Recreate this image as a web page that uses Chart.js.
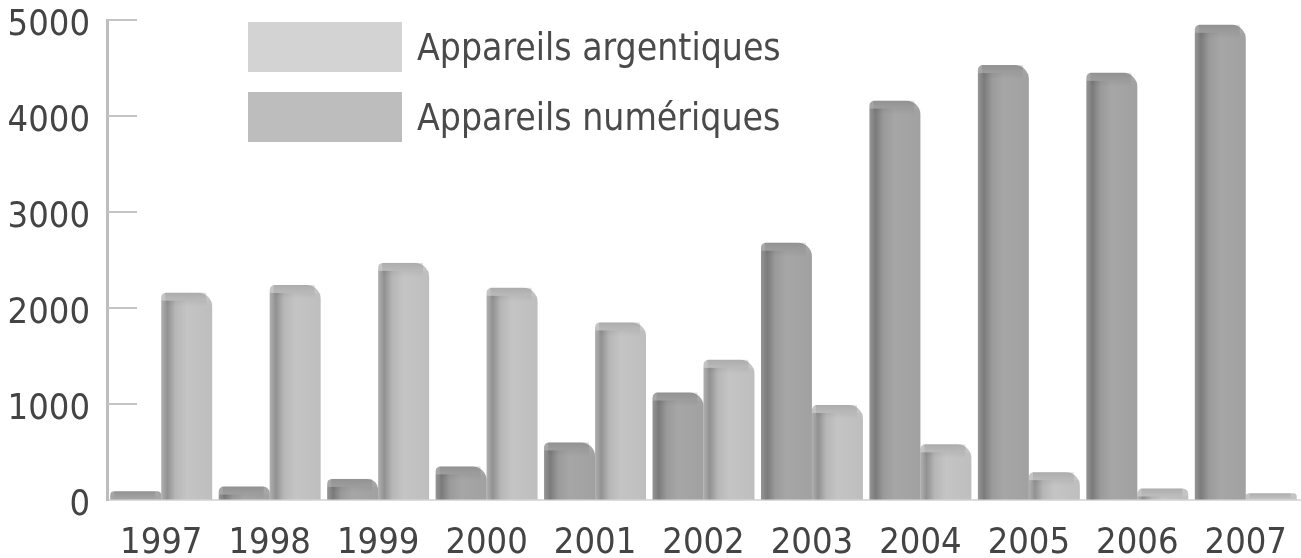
<!DOCTYPE html>
<html><head><meta charset="utf-8">
<script src="https://cdn.jsdelivr.net/npm/chart.js@4.4.1/dist/chart.umd.min.js"></script>
<style>
html,body{margin:0;padding:0;background:#fff;}
#wrap{position:relative;width:1301px;height:558px;}
#legend{position:absolute;left:248px;top:22px;font-family:"DejaVu Sans Condensed","DejaVu Sans",sans-serif;}
.row{display:flex;align-items:center;height:50px;margin-bottom:20px;}
.box{width:154px;height:50px;}
.lbl{margin-left:15px;font-size:37px;color:#4a4a4a;white-space:nowrap;}
</style></head><body>
<div id="wrap"><canvas id="c" width="1301" height="558"></canvas><div id="legend"></div></div>
<script>
const years = ['1997','1998','1999','2000','2001','2002','2003','2004','2005','2006','2007'];
const numeriques = [90, 140, 220, 350, 600, 1120, 2680, 4160, 4530, 4450, 4950];
const argentiques = [2160, 2240, 2470, 2210, 1850, 1460, 990, 580, 290, 120, 70];
const seriesLabels = ['Appareils numériques', 'Appareils argentiques'];
const seriesColors = ['#a6a6a6', '#c4c4c4'];
const yMin = 0, yMax = 5000, yStep = 1000;

const FONT = '"DejaVu Sans Condensed","DejaVu Sans",sans-serif';

const inwardTicks = {
  id: 'inwardTicks',
  afterDraw(chart) {
    const {ctx, chartArea} = chart;
    const y = chart.scales.y;
    ctx.save();
    ctx.strokeStyle = '#c4c4c4';
    ctx.lineWidth = 2;
    y.ticks.forEach(t => {
      const py = y.getPixelForValue(t.value);
      if (t.value === 0) return;
      ctx.beginPath();
      ctx.moveTo(chartArea.left, py);
      ctx.lineTo(chartArea.left + 30, py);
      ctx.stroke();
    });
    ctx.restore();
  }
};

const shade3d = {
  id: 'shade3d',
  afterDatasetsDraw(chart) {
    const ctx = chart.ctx;
    chart.data.datasets.forEach((ds, di) => {
      const meta = chart.getDatasetMeta(di);
      meta.data.forEach(bar => {
        const w = bar.width;
        const left = bar.x - w / 2;
        const top = bar.y;
        const h = bar.base - bar.y;
        if (h <= 0) return;
        ctx.save();
        const g = ctx.createLinearGradient(left, 0, left + w, 0);
        g.addColorStop(0, 'rgba(0,0,0,0.10)');
        g.addColorStop(0.12, 'rgba(0,0,0,0.26)');
        g.addColorStop(0.28, 'rgba(0,0,0,0.07)');
        g.addColorStop(0.5, 'rgba(0,0,0,0)');
        g.addColorStop(1, 'rgba(0,0,0,0.03)');
        ctx.fillStyle = g;
        const off = Math.min(8, h);
        ctx.fillRect(left, top + off, w, h - off);
        const tg = ctx.createLinearGradient(0, top, 0, top + Math.min(14, h));
        tg.addColorStop(0, 'rgba(0,0,0,0.12)');
        tg.addColorStop(1, 'rgba(0,0,0,0)');
        ctx.fillStyle = tg;
        ctx.fillRect(left + 4, top, w - 10, Math.min(14, h));
        ctx.restore();
      });
    });
  }
};

const chart = new Chart(document.getElementById('c'), {
  type: 'bar',
  data: {
    labels: years,
    datasets: [
      { label: seriesLabels[0], data: numeriques, backgroundColor: seriesColors[0],
        borderRadius: {topLeft: 5, topRight: 14, bottomLeft: 0, bottomRight: 0}, borderSkipped: 'bottom' },
      { label: seriesLabels[1], data: argentiques, backgroundColor: seriesColors[1],
        borderRadius: {topLeft: 5, topRight: 14, bottomLeft: 0, bottomRight: 0}, borderSkipped: 'bottom' }
    ]
  },
  options: {
    responsive: false,
    animation: false,
    devicePixelRatio: 1,
    layout: { padding: { top: 20, right: 1, left: 0, bottom: 0 } },
    datasets: { bar: { categoryPercentage: 0.94, barPercentage: 1.0 } },
    plugins: { legend: { display: false }, tooltip: { enabled: false } },
    scales: {
      x: {
        grid: { display: false, drawTicks: false },
        border: { display: true, color: '#dcdcdc', width: 2 },
        ticks: { font: { family: FONT, size: 36 }, color: '#444', padding: 22, maxRotation: 0 },
        afterFit(s) { s.height = 58; s.paddingLeft = 0; s.paddingRight = 0; }
      },
      y: {
        min: yMin, max: yMax,
        grid: { drawOnChartArea: false, drawTicks: false },
        border: { display: true, color: '#bdbdbd', width: 3 },
        ticks: { stepSize: yStep, font: { family: FONT, size: 36 }, color: '#444', padding: 17,
                 labelOffset: 6, callback: v => String(v) },
        afterFit(s) { s.width = 107; s.paddingTop = 0; s.paddingBottom = 0; }
      }
    }
  },
  plugins: [shade3d, inwardTicks]
});

const legendEl = document.getElementById('legend');
chart.data.datasets.slice().reverse().forEach(ds => {
  const row = document.createElement('div'); row.className = 'row';
  const box = document.createElement('div'); box.className = 'box';
  box.style.background = ds.backgroundColor === seriesColors[1] ? '#d3d3d3' : '#bdbdbd';
  const lbl = document.createElement('span'); lbl.className = 'lbl'; lbl.textContent = ds.label;
  row.appendChild(box); row.appendChild(lbl); legendEl.appendChild(row);
});
</script>
</body></html>
